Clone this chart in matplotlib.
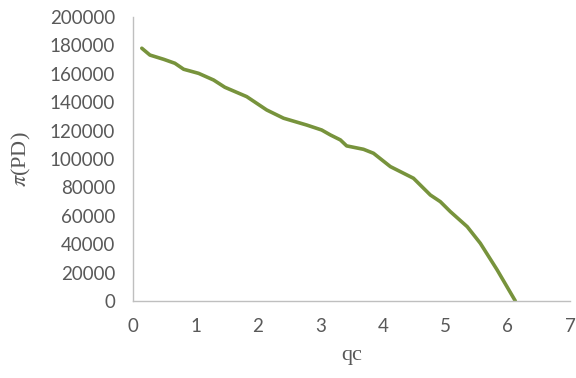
import matplotlib
matplotlib.use("Agg")
import matplotlib.pyplot as plt

# profit of the dominant firm against the fringe quantity
qc = [0.14, 0.27, 0.49, 0.67, 0.81, 1.05, 1.29, 1.47, 1.82, 2.14, 2.41, 2.78,
      3.02, 3.16, 3.32, 3.42, 3.69, 3.85, 4.12, 4.49, 4.76, 4.92, 5.08, 5.35,
      5.56, 5.83, 6.12]
profit = [178000, 173200, 170200, 167400, 163200, 160300, 155600, 150500,
          143900, 134500, 128700, 123900, 120400, 116900, 113400, 109200,
          106800, 104000, 94600, 86400, 74600, 69900, 62900, 52300, 40600,
          21800, 0]

xticks = [0, 1, 2, 3, 4, 5, 6, 7]
yticks = list(range(0, 200001, 20000))

grey = "#595959"
plt.rcParams["mathtext.fontset"] = "stix"

fig = plt.figure(figsize=(5.76, 3.78), dpi=100)
ax = fig.add_axes([0.231, 0.204, 0.759, 0.751])

ax.plot(qc, profit, color="#77933C", linewidth=2.6, solid_capstyle="round")

ax.set_xlim(0, 7)
ax.set_ylim(0, 200000)
ax.set_xticks(xticks)
ax.set_yticks(yticks)
ax.tick_params(length=0, labelsize=13.5, labelcolor=grey)
ax.tick_params(axis="y", pad=13)
ax.tick_params(axis="x", pad=12)
for lab in ax.get_xticklabels() + ax.get_yticklabels():
    lab.set_family("Lato")

for side in ("top", "right"):
    ax.spines[side].set_visible(False)
for side in ("left", "bottom"):
    ax.spines[side].set_color("#BFBFBF")
    ax.spines[side].set_linewidth(1)

ax.set_xlabel("qc", family="Liberation Serif", fontsize=16, color=grey, labelpad=8)
ax.set_ylabel(r"$\pi$(PD)", family="Liberation Serif", fontsize=16, color=grey, labelpad=12)

fig.savefig("out.png", dpi=100)
